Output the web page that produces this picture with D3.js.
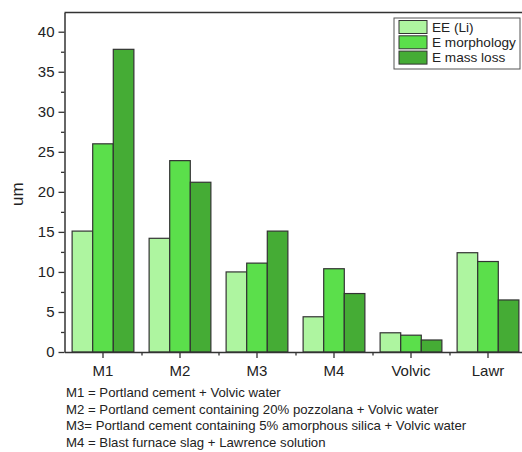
<!DOCTYPE html>
<html>
<head>
<meta charset="utf-8">
<script src="https://cdn.jsdelivr.net/npm/d3@7"></script>
<style>
  html, body { margin: 0; padding: 0; background: #fff; }
  svg { display: block; font-family: "Liberation Sans", Arial, sans-serif; }
</style>
</head>
<body>
<script>
// Sample groups along the x axis
const categories = ["M1", "M2", "M3", "M4", "Volvic", "Lawr"];
// Series names shown in the legend
const seriesNames = ["EE (Li)", "E morphology", "E mass loss"];
// Values (um) per series, in category order
const eeLi        = [15.1, 14.2, 10.0, 4.4, 2.4, 12.4];
const eMorphology = [26.0, 23.9, 11.1, 10.4, 2.1, 11.3];
const eMassLoss   = [37.8, 21.2, 15.1, 7.3, 1.5, 6.5];
// Y axis tick values
const yTicks = [0, 5, 10, 15, 20, 25, 30, 35, 40];
// Footnote lines describing the mixes
const notes = [
  "M1 = Portland cement + Volvic water",
  "M2 = Portland cement containing 20% pozzolana + Volvic water",
  "M3= Portland cement containing 5% amorphous silica + Volvic water",
  "M4 = Blast furnace slag + Lawrence solution"
];

const seriesValues = [eeLi, eMorphology, eMassLoss];
const colors = ["#aef5a0", "#5bdf4b", "#45ac35"];
const W = 522, H = 452;
const plot = { left: 64.5, right: 526.5, top: 12.5, bottom: 352 };

const svg = d3.select("body").append("svg").attr("width", W).attr("height", H);

const x = d3.scaleBand().domain(categories).range([plot.left, plot.right]).paddingInner(0).paddingOuter(0);
const xs = d3.scaleBand().domain(d3.range(seriesValues.length))
  .range([0, x.bandwidth()]).paddingInner(0).paddingOuter(0.37);
const y = d3.scaleLinear().domain([0, 42.4]).range([plot.bottom, plot.top]);

const rows = categories.map((c, i) => ({ c, vals: seriesValues.map(s => s[i]) }));

// Bars
const groups = svg.append("g").selectAll("g").data(rows).join("g")
  .attr("transform", d => `translate(${x(d.c)},0)`);
groups.selectAll("rect").data(d => d.vals.map((v, k) => ({ v, k }))).join("rect")
  .attr("x", d => xs(d.k))
  .attr("width", xs.bandwidth())
  .attr("y", d => y(d.v))
  .attr("height", d => y(0) - y(d.v))
  .attr("fill", d => colors[d.k])
  .attr("stroke", "#333")
  .attr("stroke-width", 1.2);

const axisColor = "#333";

// Y axis with minor ticks
svg.append("g").attr("transform", `translate(${plot.left},0)`)
  .call(d3.axisLeft(y).tickValues(yTicks).tickSize(6).tickPadding(4).tickSizeOuter(0));
svg.append("g").attr("transform", `translate(${plot.left},0)`)
  .call(d3.axisLeft(y).tickValues(d3.range(2.5, 42, 5)).tickSize(3.5).tickFormat("").tickSizeOuter(0))
  .select(".domain").remove();

// X axis: major ticks at category centres, minor at boundaries
svg.append("g").attr("transform", `translate(0,${plot.bottom})`)
  .call(d3.axisBottom(x).tickSize(6).tickPadding(7).tickSizeOuter(0));
svg.append("g").attr("transform", `translate(0,${plot.bottom})`)
  .call(d3.axisBottom(d3.scaleLinear().domain([0, 6]).range([plot.left, plot.right]))
    .tickValues(d3.range(1, 6)).tickSize(3.5).tickFormat("").tickSizeOuter(0))
  .select(".domain").remove();

svg.selectAll(".domain").attr("stroke", axisColor).attr("stroke-width", 1.5);
svg.selectAll(".tick line").attr("stroke", axisColor).attr("stroke-width", 1.3);
svg.selectAll(".tick text").attr("fill", "#222").style("font-size", "15px")
  .style("font-family", "'Liberation Sans', Arial, sans-serif");

// Top frame line
svg.append("line").attr("x1", plot.left).attr("x2", W).attr("y1", plot.top).attr("y2", plot.top)
  .attr("stroke", axisColor).attr("stroke-width", 1.5);

// Y axis title
svg.append("text").attr("transform", `translate(23,${(plot.top + plot.bottom) / 2 + 12}) rotate(-90)`)
  .attr("text-anchor", "middle").attr("fill", "#222").style("font-size", "17px").text("um");

// Legend
const lg = svg.append("g").attr("transform", "translate(394,18)");
lg.append("rect").attr("width", 126).attr("height", 51).attr("fill", "#fff")
  .attr("stroke", "#555").attr("stroke-width", 1);
seriesNames.forEach((n, k) => {
  lg.append("rect").attr("x", 5).attr("y", 2.5 + k * 15.3).attr("width", 28).attr("height", 13)
    .attr("fill", colors[k]).attr("stroke", "#333").attr("stroke-width", 1);
  lg.append("text").attr("x", 38).attr("y", 13.5 + k * 15.3).attr("fill", "#222")
    .style("font-size", "13.6px").text(n);
});

// Footnotes
svg.append("g").selectAll("text").data(notes).join("text")
  .attr("x", 66).attr("y", (d, i) => 397 + i * 16.7)
  .attr("fill", "#222").style("font-size", "13.2px").text(d => d);
</script>
</body>
</html>
